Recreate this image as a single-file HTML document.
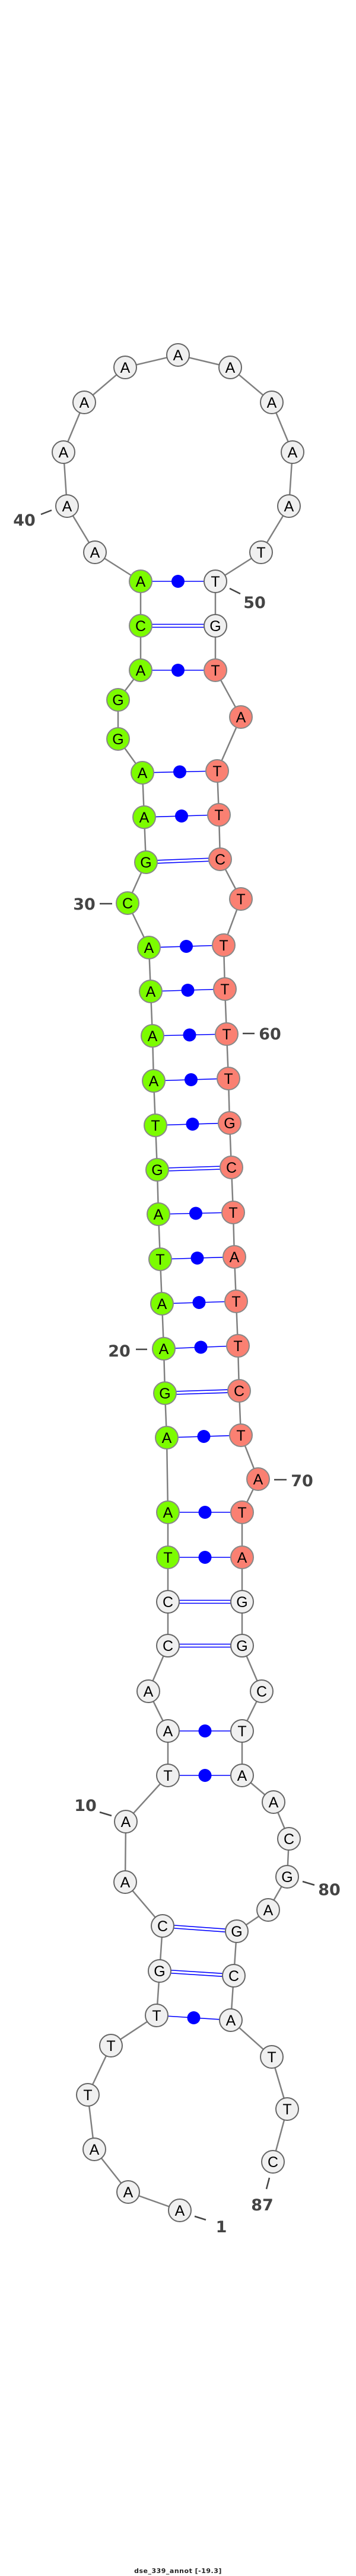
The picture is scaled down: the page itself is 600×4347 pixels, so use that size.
<!DOCTYPE html>
<html><head><meta charset="utf-8"><style>
html,body{margin:0;padding:0;background:#fff;}
svg{display:block;}
.bb{fill:none;stroke:#808080;stroke-width:2.5;}
.p{stroke:#0000ff;stroke-width:1.6;}
.d{fill:#0000ff;}
.W{fill:#f0f0f0;stroke:#666;stroke-width:2;}
.G{fill:#7cfc00;stroke:#888;stroke-width:2;}
.R{fill:#fa8072;stroke:#888;stroke-width:2;}
.t{font-family:"Liberation Sans",sans-serif;font-size:25px;text-anchor:middle;fill:#000;}
.l{font-family:"DejaVu Sans","Liberation Sans",sans-serif;font-weight:bold;font-size:27px;text-anchor:middle;fill:#444;}
.k{stroke:#444;stroke-width:2.5;}
</style></head><body>
<svg width="600" height="4347" viewBox="0 0 600 4347" xmlns="http://www.w3.org/2000/svg">
<polyline class="bb" points="303,3730 216,3699 159,3627 148,3535 187,3452 264,3401 269,3326 274,3250 211,3176 212,3074 283,2996 283,2921 250,2854 283,2777 283,2703 283,2628 283,2552 281,2426 278,2351 276,2276 273,2200 270,2125 267,2049 265,1974 262,1899 259,1824 257,1748 254,1673 251,1599 215,1524 246,1455 243,1379 240,1304 199,1247 199,1181 237,1131 237,1056 237,981 160,932 113,854 107,763 142,679 211,620 300,599 388,620 458,679 493,763 487,854 440,932 363,981 363,1056 363,1131 406,1210 366,1301 369,1375 371,1450 406,1517 377,1595 379,1669 382,1745 385,1820 387,1895 390,1970 393,2046 395,2121 398,2196 401,2271 403,2347 406,2422 435,2496 408,2552 408,2628 408,2703 408,2777 441,2854 408,2921 408,2996 461,3041 487,3103 484,3167 452,3223 399,3259 394,3334 389,3409 458,3471 484,3559 460,3648"/>
<g>
<line class="p" x1="237" y1="981" x2="363" y2="981"/><circle class="d" cx="300" cy="981" r="11"/>
<line class="p" x1="237" y1="1131" x2="363" y2="1131"/><circle class="d" cx="300" cy="1131" r="11"/>
<line class="p" x1="240" y1="1304" x2="366" y2="1301"/><circle class="d" cx="303" cy="1302.5" r="11"/>
<line class="p" x1="243" y1="1379" x2="369" y2="1375"/><circle class="d" cx="306" cy="1377" r="11"/>
<line class="p" x1="251" y1="1599" x2="377" y2="1595"/><circle class="d" cx="314" cy="1597" r="11"/>
<line class="p" x1="254" y1="1673" x2="379" y2="1669"/><circle class="d" cx="316.5" cy="1671" r="11"/>
<line class="p" x1="257" y1="1748" x2="382" y2="1745"/><circle class="d" cx="319.5" cy="1746.5" r="11"/>
<line class="p" x1="259" y1="1824" x2="385" y2="1820"/><circle class="d" cx="322" cy="1822" r="11"/>
<line class="p" x1="262" y1="1899" x2="387" y2="1895"/><circle class="d" cx="324.5" cy="1897" r="11"/>
<line class="p" x1="267" y1="2049" x2="393" y2="2046"/><circle class="d" cx="330" cy="2047.5" r="11"/>
<line class="p" x1="270" y1="2125" x2="395" y2="2121"/><circle class="d" cx="332.5" cy="2123" r="11"/>
<line class="p" x1="273" y1="2200" x2="398" y2="2196"/><circle class="d" cx="335.5" cy="2198" r="11"/>
<line class="p" x1="276" y1="2276" x2="401" y2="2271"/><circle class="d" cx="338.5" cy="2273.5" r="11"/>
<line class="p" x1="281" y1="2426" x2="406" y2="2422"/><circle class="d" cx="343.5" cy="2424" r="11"/>
<line class="p" x1="283" y1="2552" x2="408" y2="2552"/><circle class="d" cx="345.5" cy="2552" r="11"/>
<line class="p" x1="283" y1="2628" x2="408" y2="2628"/><circle class="d" cx="345.5" cy="2628" r="11"/>
<line class="p" x1="283" y1="2921" x2="408" y2="2921"/><circle class="d" cx="345.5" cy="2921" r="11"/>
<line class="p" x1="283" y1="2996" x2="408" y2="2996"/><circle class="d" cx="345.5" cy="2996" r="11"/>
<line class="p" x1="264" y1="3401" x2="389" y2="3409"/><circle class="d" cx="326.5" cy="3405" r="11"/>
</g>
<g>
<line class="p" x1="237" y1="1053.5" x2="363" y2="1053.5"/><line class="p" x1="237" y1="1058.5" x2="363" y2="1058.5"/>
<line class="p" x1="246" y1="1452.5" x2="371" y2="1447.5"/><line class="p" x1="246" y1="1457.5" x2="371" y2="1452.5"/>
<line class="p" x1="265" y1="1971.5" x2="390" y2="1967.5"/><line class="p" x1="265" y1="1976.5" x2="390" y2="1972.5"/>
<line class="p" x1="278" y1="2348.5" x2="403" y2="2344.5"/><line class="p" x1="278" y1="2353.5" x2="403" y2="2349.5"/>
<line class="p" x1="283" y1="2700.5" x2="408" y2="2700.5"/><line class="p" x1="283" y1="2705.5" x2="408" y2="2705.5"/>
<line class="p" x1="283" y1="2774.5" x2="408" y2="2774.5"/><line class="p" x1="283" y1="2779.5" x2="408" y2="2779.5"/>
<line class="p" x1="274" y1="3247.5" x2="399" y2="3256.5"/><line class="p" x1="274" y1="3252.5" x2="399" y2="3261.5"/>
<line class="p" x1="269" y1="3323.5" x2="394" y2="3331.5"/><line class="p" x1="269" y1="3328.5" x2="394" y2="3336.5"/>
</g>
<g>
<circle class="W" cx="303" cy="3730" r="19"/><text class="t" x="303" y="3739">A</text>
<circle class="W" cx="216" cy="3699" r="19"/><text class="t" x="216" y="3708">A</text>
<circle class="W" cx="159" cy="3627" r="19"/><text class="t" x="159" y="3636">A</text>
<circle class="W" cx="148" cy="3535" r="19"/><text class="t" x="148" y="3544">T</text>
<circle class="W" cx="187" cy="3452" r="19"/><text class="t" x="187" y="3461">T</text>
<circle class="W" cx="264" cy="3401" r="19"/><text class="t" x="264" y="3410">T</text>
<circle class="W" cx="269" cy="3326" r="19"/><text class="t" x="269" y="3335">G</text>
<circle class="W" cx="274" cy="3250" r="19"/><text class="t" x="274" y="3259">C</text>
<circle class="W" cx="211" cy="3176" r="19"/><text class="t" x="211" y="3185">A</text>
<circle class="W" cx="212" cy="3074" r="19"/><text class="t" x="212" y="3083">A</text>
<circle class="W" cx="283" cy="2996" r="19"/><text class="t" x="283" y="3005">T</text>
<circle class="W" cx="283" cy="2921" r="19"/><text class="t" x="283" y="2930">A</text>
<circle class="W" cx="250" cy="2854" r="19"/><text class="t" x="250" y="2863">A</text>
<circle class="W" cx="283" cy="2777" r="19"/><text class="t" x="283" y="2786">C</text>
<circle class="W" cx="283" cy="2703" r="19"/><text class="t" x="283" y="2712">C</text>
<circle class="G" cx="283" cy="2628" r="19"/><text class="t" x="283" y="2637">T</text>
<circle class="G" cx="283" cy="2552" r="19"/><text class="t" x="283" y="2561">A</text>
<circle class="G" cx="281" cy="2426" r="19"/><text class="t" x="281" y="2435">A</text>
<circle class="G" cx="278" cy="2351" r="19"/><text class="t" x="278" y="2360">G</text>
<circle class="G" cx="276" cy="2276" r="19"/><text class="t" x="276" y="2285">A</text>
<circle class="G" cx="273" cy="2200" r="19"/><text class="t" x="273" y="2209">A</text>
<circle class="G" cx="270" cy="2125" r="19"/><text class="t" x="270" y="2134">T</text>
<circle class="G" cx="267" cy="2049" r="19"/><text class="t" x="267" y="2058">A</text>
<circle class="G" cx="265" cy="1974" r="19"/><text class="t" x="265" y="1983">G</text>
<circle class="G" cx="262" cy="1899" r="19"/><text class="t" x="262" y="1908">T</text>
<circle class="G" cx="259" cy="1824" r="19"/><text class="t" x="259" y="1833">A</text>
<circle class="G" cx="257" cy="1748" r="19"/><text class="t" x="257" y="1757">A</text>
<circle class="G" cx="254" cy="1673" r="19"/><text class="t" x="254" y="1682">A</text>
<circle class="G" cx="251" cy="1599" r="19"/><text class="t" x="251" y="1608">A</text>
<circle class="G" cx="215" cy="1524" r="19"/><text class="t" x="215" y="1533">C</text>
<circle class="G" cx="246" cy="1455" r="19"/><text class="t" x="246" y="1464">G</text>
<circle class="G" cx="243" cy="1379" r="19"/><text class="t" x="243" y="1388">A</text>
<circle class="G" cx="240" cy="1304" r="19"/><text class="t" x="240" y="1313">A</text>
<circle class="G" cx="199" cy="1247" r="19"/><text class="t" x="199" y="1256">G</text>
<circle class="G" cx="199" cy="1181" r="19"/><text class="t" x="199" y="1190">G</text>
<circle class="G" cx="237" cy="1131" r="19"/><text class="t" x="237" y="1140">A</text>
<circle class="G" cx="237" cy="1056" r="19"/><text class="t" x="237" y="1065">C</text>
<circle class="G" cx="237" cy="981" r="19"/><text class="t" x="237" y="990">A</text>
<circle class="W" cx="160" cy="932" r="19"/><text class="t" x="160" y="941">A</text>
<circle class="W" cx="113" cy="854" r="19"/><text class="t" x="113" y="863">A</text>
<circle class="W" cx="107" cy="763" r="19"/><text class="t" x="107" y="772">A</text>
<circle class="W" cx="142" cy="679" r="19"/><text class="t" x="142" y="688">A</text>
<circle class="W" cx="211" cy="620" r="19"/><text class="t" x="211" y="629">A</text>
<circle class="W" cx="300" cy="599" r="19"/><text class="t" x="300" y="608">A</text>
<circle class="W" cx="388" cy="620" r="19"/><text class="t" x="388" y="629">A</text>
<circle class="W" cx="458" cy="679" r="19"/><text class="t" x="458" y="688">A</text>
<circle class="W" cx="493" cy="763" r="19"/><text class="t" x="493" y="772">A</text>
<circle class="W" cx="487" cy="854" r="19"/><text class="t" x="487" y="863">A</text>
<circle class="W" cx="440" cy="932" r="19"/><text class="t" x="440" y="941">T</text>
<circle class="W" cx="363" cy="981" r="19"/><text class="t" x="363" y="990">T</text>
<circle class="W" cx="363" cy="1056" r="19"/><text class="t" x="363" y="1065">G</text>
<circle class="R" cx="363" cy="1131" r="19"/><text class="t" x="363" y="1140">T</text>
<circle class="R" cx="406" cy="1210" r="19"/><text class="t" x="406" y="1219">A</text>
<circle class="R" cx="366" cy="1301" r="19"/><text class="t" x="366" y="1310">T</text>
<circle class="R" cx="369" cy="1375" r="19"/><text class="t" x="369" y="1384">T</text>
<circle class="R" cx="371" cy="1450" r="19"/><text class="t" x="371" y="1459">C</text>
<circle class="R" cx="406" cy="1517" r="19"/><text class="t" x="406" y="1526">T</text>
<circle class="R" cx="377" cy="1595" r="19"/><text class="t" x="377" y="1604">T</text>
<circle class="R" cx="379" cy="1669" r="19"/><text class="t" x="379" y="1678">T</text>
<circle class="R" cx="382" cy="1745" r="19"/><text class="t" x="382" y="1754">T</text>
<circle class="R" cx="385" cy="1820" r="19"/><text class="t" x="385" y="1829">T</text>
<circle class="R" cx="387" cy="1895" r="19"/><text class="t" x="387" y="1904">G</text>
<circle class="R" cx="390" cy="1970" r="19"/><text class="t" x="390" y="1979">C</text>
<circle class="R" cx="393" cy="2046" r="19"/><text class="t" x="393" y="2055">T</text>
<circle class="R" cx="395" cy="2121" r="19"/><text class="t" x="395" y="2130">A</text>
<circle class="R" cx="398" cy="2196" r="19"/><text class="t" x="398" y="2205">T</text>
<circle class="R" cx="401" cy="2271" r="19"/><text class="t" x="401" y="2280">T</text>
<circle class="R" cx="403" cy="2347" r="19"/><text class="t" x="403" y="2356">C</text>
<circle class="R" cx="406" cy="2422" r="19"/><text class="t" x="406" y="2431">T</text>
<circle class="R" cx="435" cy="2496" r="19"/><text class="t" x="435" y="2505">A</text>
<circle class="R" cx="408" cy="2552" r="19"/><text class="t" x="408" y="2561">T</text>
<circle class="R" cx="408" cy="2628" r="19"/><text class="t" x="408" y="2637">A</text>
<circle class="W" cx="408" cy="2703" r="19"/><text class="t" x="408" y="2712">G</text>
<circle class="W" cx="408" cy="2777" r="19"/><text class="t" x="408" y="2786">G</text>
<circle class="W" cx="441" cy="2854" r="19"/><text class="t" x="441" y="2863">C</text>
<circle class="W" cx="408" cy="2921" r="19"/><text class="t" x="408" y="2930">T</text>
<circle class="W" cx="408" cy="2996" r="19"/><text class="t" x="408" y="3005">A</text>
<circle class="W" cx="461" cy="3041" r="19"/><text class="t" x="461" y="3050">A</text>
<circle class="W" cx="487" cy="3103" r="19"/><text class="t" x="487" y="3112">C</text>
<circle class="W" cx="484" cy="3167" r="19"/><text class="t" x="484" y="3176">G</text>
<circle class="W" cx="452" cy="3223" r="19"/><text class="t" x="452" y="3232">A</text>
<circle class="W" cx="399" cy="3259" r="19"/><text class="t" x="399" y="3268">G</text>
<circle class="W" cx="394" cy="3334" r="19"/><text class="t" x="394" y="3343">C</text>
<circle class="W" cx="389" cy="3409" r="19"/><text class="t" x="389" y="3418">A</text>
<circle class="W" cx="458" cy="3471" r="19"/><text class="t" x="458" y="3480">T</text>
<circle class="W" cx="484" cy="3559" r="19"/><text class="t" x="484" y="3568">T</text>
<circle class="W" cx="460" cy="3648" r="19"/><text class="t" x="460" y="3657">C</text>
</g>
<g>
<line class="k" x1="69" y1="868" x2="87" y2="861"/><text class="l" x="41" y="887">40</text>
<line class="k" x1="387" y1="993" x2="405" y2="1002"/><text class="l" x="429" y="1026">50</text>
<line class="k" x1="168" y1="1525" x2="189" y2="1525"/><text class="l" x="142" y="1535">30</text>
<line class="k" x1="409" y1="1744" x2="429" y2="1744"/><text class="l" x="455" y="1754">60</text>
<line class="k" x1="229" y1="2277" x2="248" y2="2277"/><text class="l" x="201" y="2289">20</text>
<line class="k" x1="462" y1="2497" x2="483" y2="2497"/><text class="l" x="509" y="2508">70</text>
<line class="k" x1="168" y1="3058" x2="188" y2="3064"/><text class="l" x="144" y="3056">10</text>
<line class="k" x1="510" y1="3175" x2="530" y2="3181"/><text class="l" x="555" y="3198">80</text>
<line class="k" x1="328" y1="3740" x2="347" y2="3746"/><text class="l" x="373" y="3767">1</text>
<line class="k" x1="454" y1="3675" x2="449" y2="3694"/><text class="l" x="442" y="3730">87</text>
<text x="300" y="4342" style="font-family:'DejaVu Sans','Liberation Sans',sans-serif;font-weight:bold;font-size:11px;text-anchor:middle;fill:#222;letter-spacing:0.5px">dse_339_annot [-19.3]</text>
</g>
</svg>
</body></html>
